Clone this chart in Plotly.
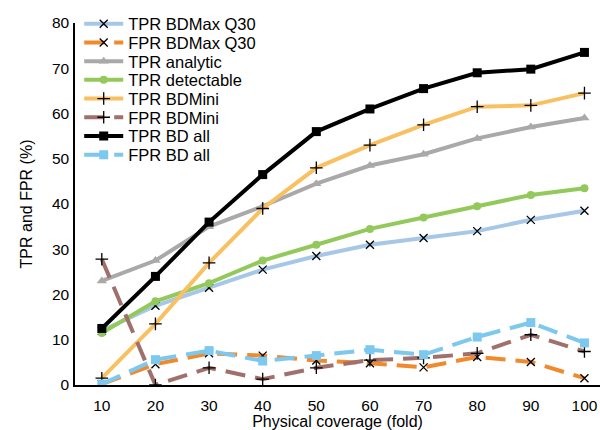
import plotly.graph_objects as go

coverage = [10, 20, 30, 40, 50, 60, 70, 80, 90, 100]
tpr_bdmax_q30 = [12.0, 17.5, 21.5, 25.5, 28.5, 31.0, 32.5, 34.0, 36.5, 38.5]
fpr_bdmax_q30 = [0.2, 4.6, 7.0, 6.5, 5.4, 4.8, 3.9, 6.2, 5.1, 1.5]
tpr_analytic = [23.0, 27.5, 35.0, 39.5, 44.5, 48.5, 51.0, 54.5, 57.0, 59.0]
tpr_detectable = [11.5, 18.5, 22.5, 27.5, 31.0, 34.5, 37.0, 39.5, 42.0, 43.5]
tpr_bdmini = [1.5, 13.5, 27.0, 39.0, 48.0, 53.0, 57.5, 61.5, 61.8, 64.5]
fpr_bdmini = [27.8, 0.0, 3.8, 1.3, 3.8, 5.5, 6.0, 7.0, 11.1, 7.4]
tpr_bd_all = [12.5, 24.0, 36.0, 46.5, 56.0, 61.0, 65.5, 69.0, 69.8, 73.5]
fpr_bd_all = [0.2, 5.6, 7.6, 5.3, 6.5, 7.8, 6.7, 10.6, 13.8, 9.3]

series = [
    ("TPR BDMax Q30", tpr_bdmax_q30, "#A7C7E7", "solid", "x-thin-open", "black", 8),
    ("FPR BDMax Q30", fpr_bdmax_q30, "#F08A2C", "dash", "x-thin-open", "black", 8),
    ("TPR analytic", tpr_analytic, "#A9A9A9", "solid", "triangle-up", "#A9A9A9", 9),
    ("TPR detectable", tpr_detectable, "#93C95A", "solid", "circle", "#93C95A", 8),
    ("TPR BDMini", tpr_bdmini, "#F9C062", "solid", "cross-thin-open", "black", 9),
    ("FPR BDMini", fpr_bdmini, "#A0706C", "dash", "cross-thin-open", "black", 9),
    ("TPR BD all", tpr_bd_all, "#000000", "solid", "square", "#000000", 9),
    ("FPR BD all", fpr_bd_all, "#7CC8EE", "dash", "square", "#7CC8EE", 9),
]

W, H = 600, 430
ML, MR, MT, MB = 75, 0, 23, 45
plot_h = H - MT - MB

fig = go.Figure()
legend_layout = {}
for i, (name, vals, col, dash, sym, mcol, msize) in enumerate(series):
    marker = dict(symbol=sym, size=msize, color=mcol)
    if "open" in sym:
        marker["line"] = dict(color=mcol, width=1.3)
    lg = "legend" if i == 0 else f"legend{i + 1}"
    fig.add_trace(go.Scatter(
        x=coverage, y=vals, name=name, mode="lines+markers", legend=lg,
        line=dict(color=col, width=4, dash="20px,10px" if dash == "dash" else "solid"),
        marker=marker,
    ))
    center_px = 24 + i * 18.7
    legend_layout[lg] = dict(
        x=0.008, y=(H - MB - center_px) / plot_h, xanchor="left", yanchor="middle",
        bgcolor="rgba(0,0,0,0)", font=dict(size=16.5), itemwidth=39,
    )

fig.update_layout(
    width=W, height=H,
    margin=dict(l=ML, r=MR, t=MT, b=MB),
    paper_bgcolor="white", plot_bgcolor="white",
    font=dict(family="Liberation Sans, Arial, sans-serif", size=14, color="black"),
    showlegend=True,
    xaxis=dict(
        range=[5, 102.9], tickvals=coverage, ticktext=[str(c) for c in coverage],
        showgrid=False, zeroline=False, showline=True, linecolor="black", linewidth=1.5,
        ticks="outside", ticklen=6, tickwidth=0.01, tickcolor="rgba(0,0,0,0)",
        tickfont=dict(size=15.5), automargin=False,
        title=dict(text="Physical coverage (fold)", font=dict(size=16)),
    ),
    yaxis=dict(
        range=[0, 80], dtick=10, showgrid=False, zeroline=False,
        showline=True, linecolor="black", linewidth=1.5,
        ticks="outside", ticklen=1, tickwidth=0.01, tickcolor="rgba(0,0,0,0)",
        tickfont=dict(size=15.5), automargin=False,
        title=dict(text="TPR and FPR (%)", font=dict(size=16)),
    ),
    **legend_layout,
)

fig.write_html(
    "out.html",
    config={"displayModeBar": False},
    post_script="document.body.style.margin='0px';document.body.style.overflow='hidden';",
)
